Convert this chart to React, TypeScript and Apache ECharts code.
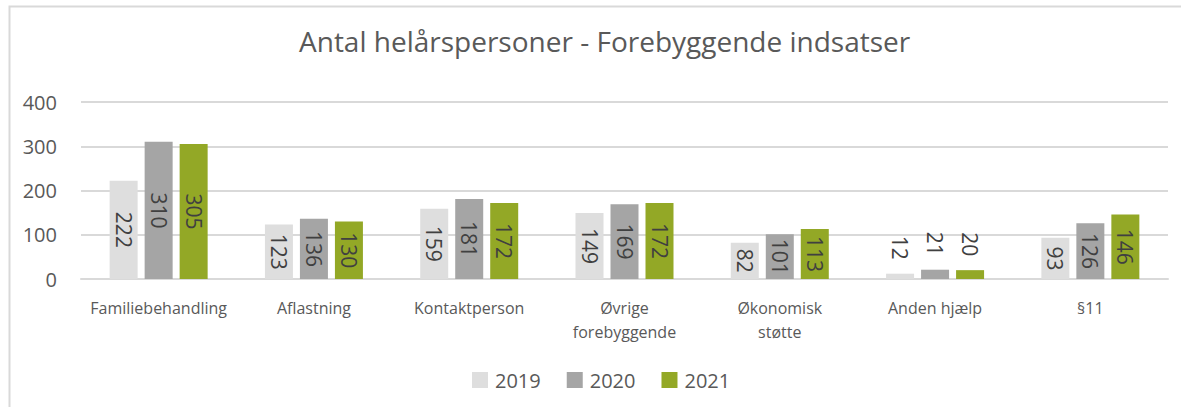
import React, { useEffect, useRef } from "react";
import * as echarts from "echarts";

const categories = [
  "Familiebehandling",
  "Aflastning",
  "Kontaktperson",
  "Øvrige\nforebyggende",
  "Økonomisk\nstøtte",
  "Anden hjælp",
  "§11",
];
const seriesNames = ["2019", "2020", "2021"];
const values2019 = [222, 123, 159, 149, 82, 12, 93];
const values2020 = [310, 136, 181, 169, 101, 21, 126];
const values2021 = [305, 130, 172, 172, 113, 20, 146];
const colors = ["#DEDEDE", "#A5A5A5", "#93A826"];
const titleText = "Antal helårspersoner - Forebyggende indsatser";

const FONT = "'Open Sans', sans-serif";

function makeData(vals: number[]) {
  return vals.map((v) =>
    v < 40
      ? {
          value: v,
          label: {
            position: "top",
            align: "right",
            verticalAlign: "middle",
            distance: 14,
          },
        }
      : { value: v }
  );
}

export default function App() {
  const ref = useRef<HTMLDivElement>(null);
  useEffect(() => {
    if (!ref.current) return;
    const chart = echarts.init(ref.current, null, { renderer: "svg" });
    const allValues = [values2019, values2020, values2021];
    chart.setOption({
      animation: false,
      backgroundColor: "#ffffff",
      title: {
        text: titleText,
        left: 294,
        top: 22,
        textStyle: {
          fontFamily: FONT,
          fontSize: 28,
          fontWeight: "normal",
          color: "#595959",
        },
      },
      graphic: [
        {
          type: "rect",
          shape: { x: 9.5, y: 6.5, width: 1300, height: 500 },
          style: { fill: "none", stroke: "#D9D9D9", lineWidth: 2 },
          silent: true,
          z: -1,
        },
      ],
      legend: {
        bottom: 12,
        left: 467,
        itemWidth: 16,
        itemHeight: 16,
        itemGap: 26,
        icon: "rect",
        textStyle: { fontFamily: FONT, fontSize: 20, color: "#595959", padding: [0, 0, 0, 2] },
        data: seriesNames,
      },
      grid: { left: 81, right: 13, top: 102, bottom: 128, containLabel: false },
      xAxis: {
        type: "category",
        data: categories,
        axisLine: { lineStyle: { color: "#D9D9D9", width: 2 } },
        axisTick: { show: false },
        axisLabel: {
          fontFamily: FONT,
          fontSize: 16,
          color: "#595959",
          margin: 17,
          lineHeight: 24,
          interval: 0,
        },
      },
      yAxis: {
        type: "value",
        min: 0,
        max: 400,
        interval: 100,
        axisLine: { show: false },
        axisTick: { show: false },
        splitLine: { lineStyle: { color: "#D9D9D9", width: 2 } },
        axisLabel: {
          fontFamily: FONT,
          fontSize: 20,
          color: "#595959",
          margin: 24,
        },
      },
      series: seriesNames.map((name, i) => ({
        name,
        type: "bar",
        data: makeData(allValues[i]),
        itemStyle: { color: colors[i] },
        barWidth: 28,
        barGap: "25%",
        label: {
          show: true,
          position: "inside",
          rotate: -90,
          fontFamily: FONT,
          fontSize: 21,
          color: "#404040",
        },
      })),
    });
    return () => chart.dispose();
  }, []);
  return (
    <div
      ref={ref}
      style={{ position: "absolute", left: 0, top: 0, width: 1181, height: 407 }}
    />
  );
}
